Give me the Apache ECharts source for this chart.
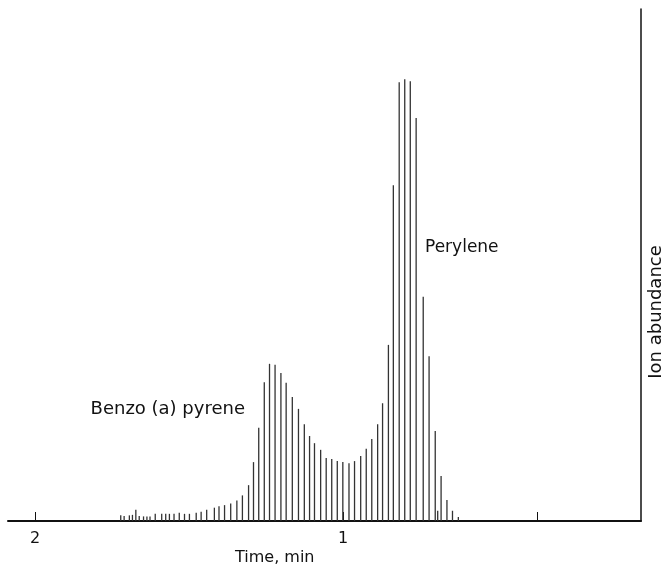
<!DOCTYPE html>
<html>
<head>
<meta charset="utf-8">
<script src="https://cdn.jsdelivr.net/npm/echarts@6/dist/echarts.min.js"></script>
<style>
  html, body { margin: 0; padding: 0; background: #fff; }
  #chart { width: 666px; height: 573px; }
</style>
</head>
<body>
<div id="chart"></div>
<script>
// retention time of each scan (min), axis runs 2 -> 0 left to right
const scanTimes = [
    1.722, 1.711, 1.694, 1.684, 1.673, 1.662, 1.648, 1.637, 1.627, 1.610,
    1.589, 1.576, 1.564, 1.549, 1.532, 1.515, 1.499, 1.477, 1.461, 1.443,
    1.418, 1.403, 1.385, 1.365, 1.345, 1.327, 1.307, 1.291, 1.274, 1.256,
    1.239, 1.221, 1.202, 1.185, 1.165, 1.145, 1.126, 1.109, 1.093, 1.073,
    1.055, 1.037, 1.019, 1.001, 0.981, 0.963, 0.943, 0.925, 0.907, 0.888,
    0.872, 0.853, 0.837, 0.818, 0.800, 0.782, 0.763, 0.740, 0.721, 0.701,
    0.693, 0.682, 0.663, 0.645, 0.626
];
// ion abundance per scan (relative, full scale = 100)
const abundance = [
    1.1, 1.0, 1.1, 1.2, 2.2, 1.0, 0.9, 0.9, 0.9, 1.4,
    1.4, 1.4, 1.4, 1.4, 1.6, 1.4, 1.4, 1.6, 1.8, 2.2,
    2.6, 2.9, 3.1, 3.4, 4.0, 5.0, 7.0, 11.5, 18.2, 27.1,
    30.7, 30.5, 28.9, 27.0, 24.2, 21.9, 18.9, 16.6, 15.2, 13.9,
    12.3, 12.1, 11.7, 11.5, 11.3, 11.7, 12.7, 14.1, 16.0, 18.9,
    23.0, 34.4, 65.6, 85.7, 86.3, 85.9, 78.7, 43.8, 32.2, 17.6,
    2.0, 8.8, 4.1, 2.0, 0.8
];
const tickValues = [2, 1, 0.37];
const tickLabels = [2, 1];

const chart = echarts.init(document.getElementById('chart'));

const scans = scanTimes.map(function (t, i) {
    return [t, abundance[i]];
});

const font = 'DejaVu Sans';

const option = {
    animation: false,
    backgroundColor: '#fff',
    grid: {
        left: 8,
        right: 25,
        top: 9,
        bottom: 52,
        outerBoundsMode: 'none'
    },
    xAxis: {
        type: 'value',
        inverse: true,
        min: 0.033,
        max: 2.088,
        axisLine: { lineStyle: { color: '#111', width: 2 } },
        axisTick: {
            customValues: tickValues,
            inside: true,
            length: 9,
            lineStyle: { color: '#111', width: 1 }
        },
        axisLabel: {
            customValues: tickLabels,
            color: '#111',
            fontFamily: font,
            fontSize: 16,
            margin: 10
        },
        splitLine: { show: false }
    },
    yAxis: {
        type: 'value',
        position: 'right',
        min: 0,
        max: 100,
        axisLine: { show: true, lineStyle: { color: '#111', width: 1.5 } },
        axisTick: { show: false },
        axisLabel: { show: false },
        splitLine: { show: false }
    },
    graphic: [
        {
            type: 'text',
            left: 235,
            top: 550,
            style: { text: 'Time, min', fill: '#111', font: '16px ' + font }
        },
        {
            type: 'text',
            x: 656,
            y: 312,
            rotation: Math.PI / 2,
            style: {
                text: 'Ion abundance',
                fill: '#111',
                font: '18px ' + font,
                align: 'center',
                verticalAlign: 'middle'
            }
        },
        {
            type: 'text',
            right: 421,
            top: 400,
            style: { text: 'Benzo (a) pyrene', fill: '#111', font: '18px ' + font }
        },
        {
            type: 'text',
            left: 425,
            top: 239,
            style: { text: 'Perylene', fill: '#111', font: '17px ' + font }
        }
    ],
    series: [
        {
            name: 'scans',
            type: 'bar',
            barWidth: 1.3,
            itemStyle: { color: '#333' },
            data: scans
        }
    ]
};

chart.setOption(option);
</script>
</body>
</html>
